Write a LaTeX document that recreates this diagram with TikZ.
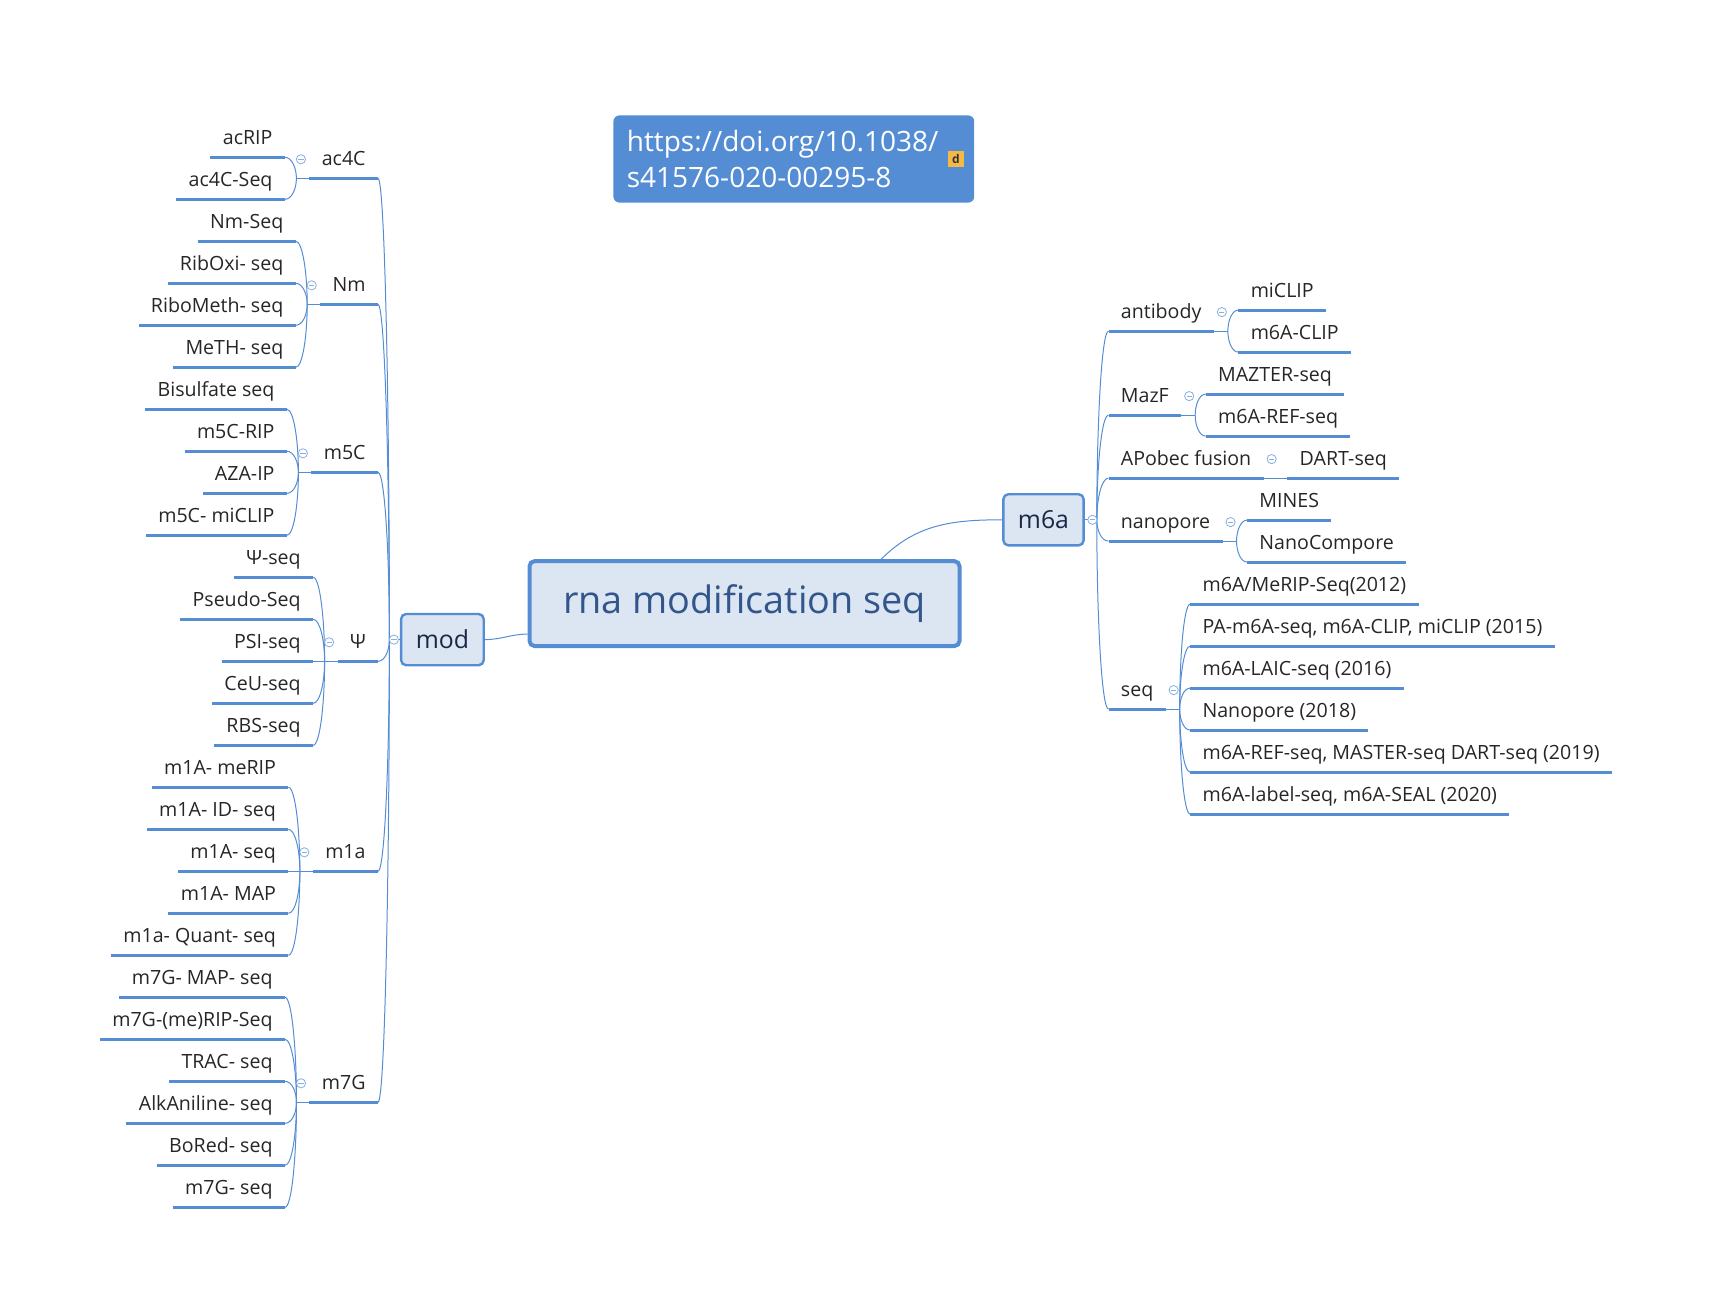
\documentclass[tikz,border=0pt]{standalone}
\usepackage{fontspec}
\setmainfont{Open Sans}
\usetikzlibrary{positioning, calc}

\definecolor{mapblue}{RGB}{84,141,212}
\definecolor{boxfill}{RGB}{220,230,242}
\definecolor{subjtext}{RGB}{25,40,70}
\definecolor{titletext}{RGB}{50,86,140}
\definecolor{badge}{RGB}{247,185,70}

\tikzset{
	x=0.5pt, y=-0.5pt, % one unit is one pixel of the screenshot
	every node/.style={font=\fontsize{9.8}{12}\selectfont, text=black!85},
	topic/.style={inner xsep=6pt, inner ysep=6pt, text depth=0pt}, % text that sits on a line
	uline/.style={draw=mapblue, line width=1.5pt},
	link/.style={draw=mapblue, line width=0.5pt},
	branch/.style={to path={let \p1=(\tikztostart), \p2=(\tikztotarget) in
		.. controls (\x1,{0.5*(\y1+\y2)}) and ({\x2+0.6*(\x1-\x2)},\y2) .. (\tikztotarget)}},
	fold/.style={circle, draw=mapblue!70, fill=white, line width=0.4pt, minimum size=4.6pt, inner sep=0pt,
		path picture={\draw[mapblue!70, line width=0.4pt] ([xshift=-1.3pt]path picture bounding box.center) -- ([xshift=1.3pt]path picture bounding box.center);}},
	subject/.style={draw=mapblue, line width=1.2pt, fill=boxfill, rounded corners=2.5pt,
		font=\fontsize{12.4}{15}\selectfont, text=subjtext},
}

\begin{document}
\begin{tikzpicture}
	\useasboundingbox (0,0) rectangle (1718,1306);

	% centre, link and the two main branches
	\node[subject, line width=2pt, minimum width=215pt, minimum height=42.4pt, font=\fontsize{18.9}{22}\selectfont, text=titletext] (rna) at (744.5,603.6) {rna modification seq};
	\node[fill=mapblue, rounded corners=3pt, minimum width=180.4pt, minimum height=43.6pt, inner xsep=6.65pt, text width=167pt, align=left, text=white, font=\fontsize{14}{17.75}\selectfont] (doi) at (793.8,159) {https://doi.org/10.1038/\\s41576-020-00295-8};
	\node[fill=badge, minimum size=7.8pt, inner sep=0pt, font=\fontsize{6}{6}\selectfont\bfseries, text=black!80] (icon) at (955.9,159) {d};
	\node[subject, minimum width=41.3pt, minimum height=25.6pt] (mod) at (442.4,639.6) {mod};
	\node[subject, minimum width=40.1pt, minimum height=25.6pt] (m6a) at (1043.5,519.8) {m6a};
	\coordinate (jmod) at ($(mod.west)+(-10.5,0)$);
	\coordinate (jm6a) at ($(m6a.east)+(12,0)$);

	% mod side
	\node[topic, anchor=south east] (ac4C) at (378,178.3) {ac4C};
	\node[topic, anchor=south east] (Nm) at (378,304.3) {Nm};
	\node[topic, anchor=south east] (m5C) at (378,472.3) {m5C};
	\node[topic, anchor=south east] (psi) at (378,661.3) {Ψ};
	\node[topic, anchor=south east] (m1a) at (378,871.3) {m1a};
	\node[topic, anchor=south east] (m7G) at (378,1102.3) {m7G};
	\foreach \q in {ac4C,Nm,m5C,psi,m1a,m7G}
		\coordinate (j\q) at ($(\q.south west)+(-13,0)$);

	\node[topic, anchor=south east] (acRIP) at ($(jac4C)+(-11.5,-21)$) {acRIP};
	\node[topic, anchor=south east] (ac4CSeq) at ($(jac4C)+(-11.5,21)$) {ac4C-Seq};

	\node[topic, anchor=south east] (NmSeq) at ($(jNm)+(-11.5,-63)$) {Nm-Seq};
	\node[topic, anchor=south east] (RibOxi) at ($(jNm)+(-11.5,-21)$) {RibOxi- seq};
	\node[topic, anchor=south east] (RiboMeth) at ($(jNm)+(-11.5,21)$) {RiboMeth- seq};
	\node[topic, anchor=south east] (MeTH) at ($(jNm)+(-11.5,63)$) {MeTH- seq};

	\node[topic, anchor=south east] (Bisulfate) at ($(jm5C)+(-11.5,-63)$) {Bisulfate seq};
	\node[topic, anchor=south east] (mRIP) at ($(jm5C)+(-11.5,-21)$) {m5C-RIP};
	\node[topic, anchor=south east] (AZAIP) at ($(jm5C)+(-11.5,21)$) {AZA-IP};
	\node[topic, anchor=south east] (mmiCLIP) at ($(jm5C)+(-11.5,63)$) {m5C- miCLIP};

	\node[topic, anchor=south east] (PsiSeq) at ($(jpsi)+(-11.5,-84)$) {Ψ-seq};
	\node[topic, anchor=south east] (PseudoSeq) at ($(jpsi)+(-11.5,-42)$) {Pseudo-Seq};
	\node[topic, anchor=south east] (PSISeq) at ($(jpsi)+(-11.5,0)$) {PSI-seq};
	\node[topic, anchor=south east] (CeUSeq) at ($(jpsi)+(-11.5,42)$) {CeU-seq};
	\node[topic, anchor=south east] (RBSSeq) at ($(jpsi)+(-11.5,84)$) {RBS-seq};

	\node[topic, anchor=south east] (meRIP) at ($(jm1a)+(-11.5,-84)$) {m1A- meRIP};
	\node[topic, anchor=south east] (IDSeq) at ($(jm1a)+(-11.5,-42)$) {m1A- ID- seq};
	\node[topic, anchor=south east] (mSeq) at ($(jm1a)+(-11.5,0)$) {m1A- seq};
	\node[topic, anchor=south east] (MAP) at ($(jm1a)+(-11.5,42)$) {m1A- MAP};
	\node[topic, anchor=south east] (QuantSeq) at ($(jm1a)+(-11.5,84)$) {m1a- Quant- seq};

	\node[topic, anchor=south east] (MAPSeq) at ($(jm7G)+(-11.5,-105)$) {m7G- MAP- seq};
	\node[topic, anchor=south east] (meRIPSeq) at ($(jm7G)+(-11.5,-63)$) {m7G-(me)RIP-Seq};
	\node[topic, anchor=south east] (TRAC) at ($(jm7G)+(-11.5,-21)$) {TRAC- seq};
	\node[topic, anchor=south east] (AlkAniline) at ($(jm7G)+(-11.5,21)$) {AlkAniline- seq};
	\node[topic, anchor=south east] (BoRed) at ($(jm7G)+(-11.5,63)$) {BoRed- seq};
	\node[topic, anchor=south east] (sevenSeq) at ($(jm7G)+(-11.5,105)$) {m7G- seq};

	% m6a side
	\node[topic, anchor=south west] (antibody) at (1108.5,331.1) {antibody};
	\node[topic, anchor=south west] (MazF) at (1108.5,415.1) {MazF};
	\node[topic, anchor=south west] (APobec) at (1108.5,478.1) {APobec fusion};
	\node[topic, anchor=south west] (nanopore) at (1108.5,541.1) {nanopore};
	\node[topic, anchor=south west] (seq) at (1108.5,709.1) {seq};
	\foreach \q in {antibody,MazF,nanopore,seq}
		\coordinate (j\q) at ($(\q.south east)+(14,0)$);

	\node[topic, anchor=south west] (miCLIP) at ($(jantibody)+(10.5,-21)$) {miCLIP};
	\node[topic, anchor=south west] (mCLIP) at ($(jantibody)+(10.5,21)$) {m6A-CLIP};
	\node[topic, anchor=south west] (MAZTER) at ($(jMazF)+(10.5,-21)$) {MAZTER-seq};
	\node[topic, anchor=south west] (REFseq) at ($(jMazF)+(10.5,21)$) {m6A-REF-seq};
	\node[topic, anchor=south west] (DART) at ($(APobec.south east)+(23.7,0)$) {DART-seq};
	\node[topic, anchor=south west] (MINES) at ($(jnanopore)+(10.5,-21)$) {MINES};
	\node[topic, anchor=south west] (NanoCompore) at ($(jnanopore)+(10.5,21)$) {NanoCompore};
	\node[topic, anchor=south west] (MeRIP) at ($(jseq)+(10.5,-105)$) {m6A/MeRIP-Seq(2012)};
	\node[topic, anchor=south west] (PAseq) at ($(jseq)+(10.5,-63)$) {PA-m6A-seq, m6A-CLIP, miCLIP (2015)};
	\node[topic, anchor=south west] (LAIC) at ($(jseq)+(10.5,-21)$) {m6A-LAIC-seq (2016)};
	\node[topic, anchor=south west] (Nanopore) at ($(jseq)+(10.5,21)$) {Nanopore (2018)};
	\node[topic, anchor=south west] (REFMASTER) at ($(jseq)+(10.5,63)$) {m6A-REF-seq, MASTER-seq DART-seq (2019)};
	\node[topic, anchor=south west] (label) at ($(jseq)+(10.5,105)$) {m6A-label-seq, m6A-SEAL (2020)};

	% lines under the texts
	\foreach \q in {ac4C,Nm,m5C,psi,m1a,m7G,acRIP,ac4CSeq,NmSeq,RibOxi,RiboMeth,MeTH,Bisulfate,mRIP,AZAIP,mmiCLIP,
		PsiSeq,PseudoSeq,PSISeq,CeUSeq,RBSSeq,meRIP,IDSeq,mSeq,MAP,QuantSeq,MAPSeq,meRIPSeq,TRAC,AlkAniline,BoRed,sevenSeq,
		antibody,MazF,APobec,nanopore,seq,miCLIP,mCLIP,MAZTER,REFseq,DART,MINES,NanoCompore,MeRIP,PAseq,LAIC,Nanopore,REFMASTER,label}
		\draw[uline] (\q.south west) -- (\q.south east);

	% connectors
	\draw[link] (rna.188) to[out=180,in=0] (mod.east);
	\draw[link] (rna.18) to[out=45,in=180] (m6a.west);
	\draw[link] (mod.west) -- (jmod) (m6a.east) -- (jm6a);
	\foreach \q in {ac4C,Nm,m5C,psi,m1a,m7G} {
		\draw[link] (jmod) to[branch] (\q.south east);
		\draw[link] (\q.south west) -- (j\q);
	}
	\foreach \q in {antibody,MazF,APobec,nanopore,seq}
		\draw[link] (jm6a) to[branch] (\q.south west);
	\foreach \q in {antibody,MazF,nanopore,seq}
		\draw[link] (\q.south east) -- (j\q);
	\draw[link] (APobec.south east) -- (DART.south west);
	\foreach \q in {acRIP,ac4CSeq} \draw[link] (jac4C) to[branch] (\q.south east);
	\foreach \q in {NmSeq,RibOxi,RiboMeth,MeTH} \draw[link] (jNm) to[branch] (\q.south east);
	\foreach \q in {Bisulfate,mRIP,AZAIP,mmiCLIP} \draw[link] (jm5C) to[branch] (\q.south east);
	\foreach \q in {PsiSeq,PseudoSeq,PSISeq,CeUSeq,RBSSeq} \draw[link] (jpsi) to[branch] (\q.south east);
	\foreach \q in {meRIP,IDSeq,mSeq,MAP,QuantSeq} \draw[link] (jm1a) to[branch] (\q.south east);
	\foreach \q in {MAPSeq,meRIPSeq,TRAC,AlkAniline,BoRed,sevenSeq} \draw[link] (jm7G) to[branch] (\q.south east);
	\foreach \q in {miCLIP,mCLIP} \draw[link] (jantibody) to[branch] (\q.south west);
	\foreach \q in {MAZTER,REFseq} \draw[link] (jMazF) to[branch] (\q.south west);
	\foreach \q in {MINES,NanoCompore} \draw[link] (jnanopore) to[branch] (\q.south west);
	\foreach \q in {MeRIP,PAseq,LAIC,Nanopore,REFMASTER,label} \draw[link] (jseq) to[branch] (\q.south west);

	% collapse marks
	\node[fold] (fmod) at ($(mod.west)+(-6,0)$) {};
	\node[fold] (fm6a) at ($(m6a.east)+(7.6,0)$) {};
	\foreach \q in {ac4C,Nm,m5C,psi,m1a,m7G}
		\node[fold] (f\q) at ($(\q.south west)+(-8.5,-19)$) {};
	\foreach \q in {antibody,MazF,APobec,nanopore,seq}
		\node[fold] (f\q) at ($(\q.south east)+(8,-19)$) {};
\end{tikzpicture}
\end{document}
